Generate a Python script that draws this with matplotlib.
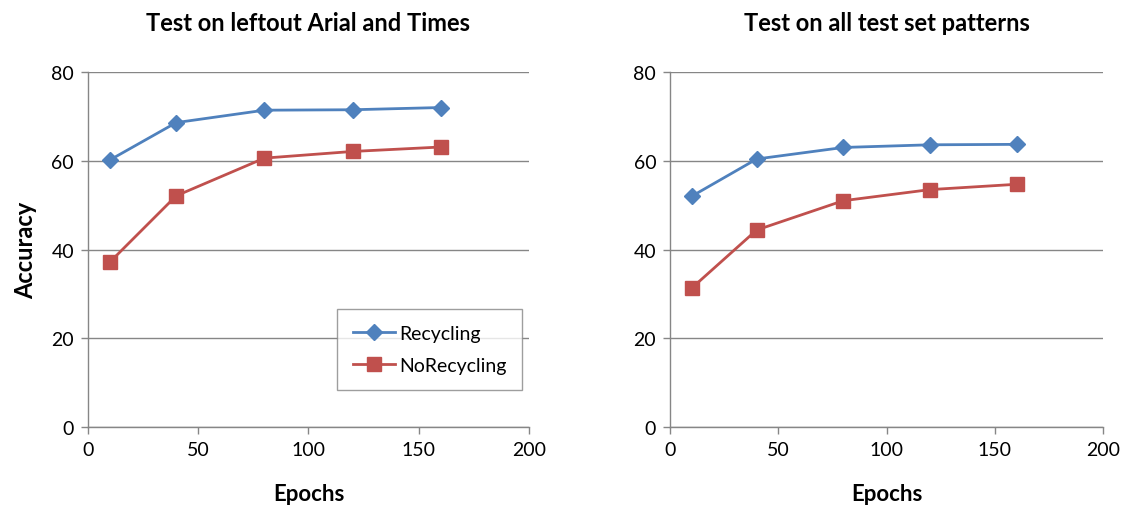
import matplotlib.pyplot as plt

# data
epochs = [10, 40, 80, 120, 160]
left_recycling = [60.2, 68.6, 71.4, 71.5, 72.0]
left_norecycling = [37.2, 52.1, 60.6, 62.1, 63.1]
right_recycling = [52.0, 60.4, 63.0, 63.6, 63.7]
right_norecycling = [31.3, 44.4, 51.0, 53.5, 54.7]

titles = ['Test on leftout Arial and Times', 'Test on all test set patterns']

BLUE = '#4F81BD'
RED = '#C0504D'
GRID = '#868686'

plt.rcParams['font.family'] = ['Lato', 'DejaVu Sans']

fig = plt.figure(figsize=(11.25, 5.1), dpi=100)
fig.patch.set_facecolor('white')

ax1 = fig.add_axes([0.0782, 0.1608, 0.392, 0.696])
ax2 = fig.add_axes([0.5956, 0.1608, 0.385, 0.696])

for ax, rec, norec, title in [(ax1, left_recycling, left_norecycling, titles[0]),
                              (ax2, right_recycling, right_norecycling, titles[1])]:
    ax.plot(epochs, rec, color=BLUE, lw=2, marker='D', ms=8,
            mfc=BLUE, mec=BLUE, label='Recycling', zorder=3)
    ax.plot(epochs, norec, color=RED, lw=2, marker='s', ms=10,
            mfc=RED, mec=RED, label='NoRecycling', zorder=3)
    ax.set_xlim(0, 200)
    ax.set_ylim(0, 80)
    ax.set_xticks([0, 50, 100, 150, 200])
    ax.set_yticks([0, 20, 40, 60, 80])
    ax.yaxis.grid(True, color=GRID, lw=1)
    ax.set_axisbelow(True)
    for s in ['top', 'right']:
        ax.spines[s].set_visible(False)
    for s in ['left', 'bottom']:
        ax.spines[s].set_color(GRID)
        ax.spines[s].set_linewidth(1)
    ax.tick_params(axis='both', colors=GRID, length=5, width=1,
                   labelcolor='#000000', labelsize=14, pad=5)
    ax.set_xlabel('Epochs', fontsize=16, fontweight='bold', labelpad=18)
    ax.set_title(title, fontsize=17, fontweight='bold', pad=30)

ax1.set_ylabel('Accuracy', fontsize=17, fontweight='bold', labelpad=10)

leg = ax1.legend(loc='upper left', bbox_to_anchor=(337 / 1125, 1 - 310 / 510),
                 bbox_transform=fig.transFigure, borderaxespad=0, fontsize=14,
                 frameon=True, fancybox=False, edgecolor=GRID, borderpad=0.8,
                 labelspacing=0.8, handlelength=2.2, handletextpad=0.2)
leg.get_frame().set_linewidth(1)

fig.savefig('out.png', dpi=100, facecolor='white')
